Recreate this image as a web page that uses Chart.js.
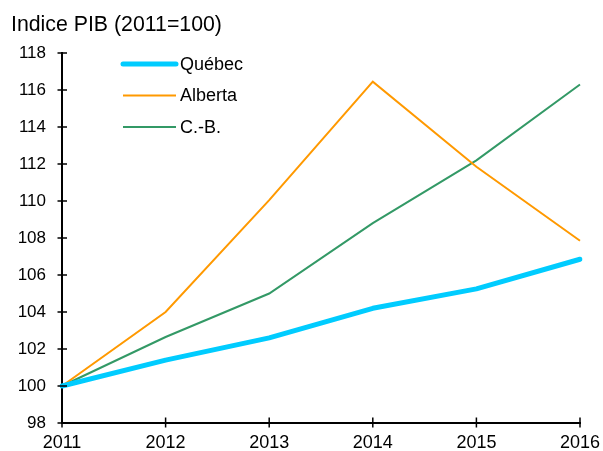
<!DOCTYPE html>
<html>
<head>
<meta charset="utf-8">
<script src="https://cdn.jsdelivr.net/npm/chart.js@4/dist/chart.umd.min.js"></script>
<style>
  html, body { margin: 0; padding: 0; background: #fff; }
  #wrap { width: 603px; height: 451px; position: relative; }
</style>
</head>
<body>
<div id="wrap"><canvas id="c" width="603" height="451"></canvas></div>
<script>
const chartTitle = "Indice PIB (2011=100)";
const years = ["2011", "2012", "2013", "2014", "2015", "2016"];
const quebec = [100, 101.4, 102.6, 104.2, 105.25, 106.85];
const alberta = [100, 104.0, 110.05, 116.45, 111.85, 107.85];
const cb = [100, 102.65, 105.0, 108.8, 112.2, 116.3];
const yTicks = [98, 100, 102, 104, 106, 108, 110, 112, 114, 116, 118];

const FONT = "'Liberation Sans', Arial, sans-serif";

const titlePlugin = {
  id: 'customTitle',
  afterDraw(chart) {
    const ctx = chart.ctx;
    ctx.save();
    ctx.font = "21.3px " + FONT;
    ctx.fillStyle = "#000";
    ctx.textBaseline = "alphabetic";
    ctx.textAlign = "left";
    ctx.fillText(chartTitle, 11, 31);
    ctx.restore();
  }
};

const crossTicks = {
  id: 'crossTicks',
  afterDraw(chart) {
    const ctx = chart.ctx;
    const xs = chart.scales.x, ys = chart.scales.y;
    const area = chart.chartArea;
    ctx.save();
    ctx.strokeStyle = "#000";
    ctx.lineWidth = 1.5;
    ys.ticks.forEach(t => {
      const py = ys.getPixelForValue(t.value);
      ctx.beginPath();
      ctx.moveTo(area.left - 4.5, py);
      ctx.lineTo(area.left + 5, py);
      ctx.stroke();
    });
    xs.ticks.forEach((t, i) => {
      const px = xs.getPixelForValue(i);
      ctx.beginPath();
      ctx.moveTo(px, area.bottom - 5.5);
      ctx.lineTo(px, area.bottom + 4.5);
      ctx.stroke();
    });
    ctx.restore();
  }
};

const legendPlugin = {
  id: 'insideLegend',
  afterDraw(chart) {
    const ctx = chart.ctx;
    const rows = [64, 95.5, 127];
    ctx.save();
    ctx.font = "18px " + FONT;
    ctx.textBaseline = "middle";
    ctx.textAlign = "left";
    chart.data.datasets.forEach((ds, i) => {
      const y = rows[i];
      ctx.strokeStyle = ds.borderColor;
      ctx.lineWidth = ds.borderWidth;
      ctx.lineCap = i === 0 ? "round" : "butt";
      ctx.beginPath();
      ctx.moveTo(123, y);
      ctx.lineTo(176, y);
      ctx.stroke();
      ctx.fillStyle = "#000";
      ctx.fillText(ds.label, 180, y + 1);
    });
    ctx.restore();
  }
};

new Chart(document.getElementById('c'), {
  type: 'line',
  data: {
    labels: years,
    datasets: [
      { label: "Québec", data: quebec, borderColor: "#00CCFF", borderWidth: 5,
        pointRadius: 0, tension: 0, borderJoinStyle: 'round', borderCapStyle: 'round' },
      { label: "Alberta", data: alberta, borderColor: "#FF9900", borderWidth: 2,
        pointRadius: 0, tension: 0 },
      { label: "C.-B.", data: cb, borderColor: "#339966", borderWidth: 2,
        pointRadius: 0, tension: 0 }
    ]
  },
  options: {
    responsive: false,
    animation: false,
    events: [],
    layout: { padding: { left: 0, right: 23, top: 53, bottom: 0 } },
    plugins: { legend: { display: false }, title: { display: false }, tooltip: { enabled: false } },
    scales: {
      x: {
        type: 'category',
        offset: false,
        grid: { display: false, drawTicks: false },
        border: { display: true, color: '#000', width: 2 },
        ticks: { color: '#000', font: { family: FONT, size: 18 }, padding: 9, maxRotation: 0, autoSkip: false },
        afterFit(s) { s.height = 28; s.paddingLeft = 0; s.paddingRight = 0; }
      },
      y: {
        min: 98, max: 118,
        afterBuildTicks(s) { s.ticks = yTicks.map(v => ({ value: v })); },
        grid: { display: false, drawTicks: false },
        border: { display: true, color: '#000', width: 2 },
        ticks: { color: '#000', font: { family: FONT, size: 17 }, padding: 16 },
        afterFit(s) { s.width = 62; s.paddingTop = 0; s.paddingBottom = 0; }
      }
    }
  },
  plugins: [titlePlugin, crossTicks, legendPlugin]
});
</script>
</body>
</html>
